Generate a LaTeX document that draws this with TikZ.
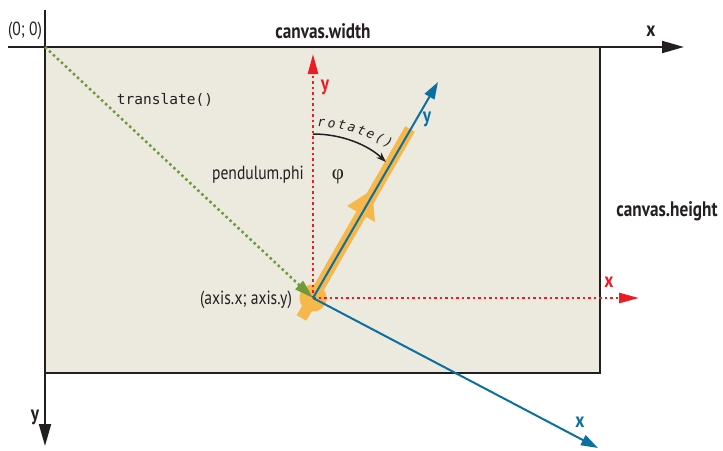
\documentclass[tikz,border=0pt]{standalone}
\usepackage{fontspec}
\setmainfont[FakeStretch=0.82]{PT Sans}
\newfontfamily\monofont{DejaVu Sans Mono}
\newfontfamily\monoslant{DejaVu Sans Mono Oblique}
\newfontfamily\greekserif{Liberation Serif}
\usetikzlibrary{arrows.meta,calc}
\definecolor{canvasbg}{HTML}{ECE9DE}
\definecolor{axred}{HTML}{EC1C24}
\definecolor{axblue}{HTML}{0B70A0}
\definecolor{penorange}{HTML}{F6B84B}
\definecolor{trgreen}{HTML}{6F9A3B}
\definecolor{inkblack}{HTML}{231F20}
\begin{document}
\begin{tikzpicture}[x=1pt,y=-1pt,
  lbl/.style={font=\fontsize{19}{19}\selectfont, text=inkblack, inner sep=0pt},
  boldlbl/.style={font=\fontsize{21}{21}\selectfont\bfseries, inner sep=0pt},
  monolbl/.style={font=\monofont\fontsize{14.5}{14.5}\selectfont, text=inkblack, inner sep=0pt},
  rotch/.style={font=\monoslant\fontsize{13}{13}\selectfont, text=inkblack, inner sep=0pt, sloped, anchor=base},
  mainaxis/.style={draw=inkblack, line width=2pt, -{Triangle[length=22pt,width=12pt]}},
  redaxis/.style={draw=axred, line width=2.5pt, dash pattern=on 2.5pt off 3pt, -{Triangle[length=20pt,width=10pt]}},
  blueaxis/.style={draw=axblue, line width=2pt, -{Triangle[length=17pt,width=11pt]}},
  greenpath/.style={draw=trgreen, line width=2.5pt, dash pattern=on 2.5pt off 3pt, -{Triangle[length=19pt,width=11pt]}}
]
\useasboundingbox (0,0) rectangle (723,450);
% canvas
\coordinate (cTL) at (45,47);
\coordinate (cBR) at (600,373);
\fill[canvasbg] (cTL) rectangle (cBR);
\draw[inkblack, line width=2pt] (cTL) rectangle (cBR);
% main axes
\coordinate (xs) at (8,47);
\coordinate (xe) at (684,47);
\coordinate (ys) at (45,10);
\coordinate (ye) at (45,446);
\draw[mainaxis] (xs) -- (xe);
\draw[mainaxis] (ys) -- (ye);
% pivot
\coordinate (O) at (313,298);
\coordinate (rodA) at (301.5,318);
\coordinate (rodB) at (410,129);
\coordinate (tipA) at (372,190);
\coordinate (barbL) at (347,206);
\coordinate (barbR) at (375,222);
\draw[penorange, line width=11pt] (rodA) -- (rodB);
\fill[penorange] (O) circle (13.5);
\fill[penorange] (tipA) -- (barbL) -- (barbR) -- cycle;
% red axes
\coordinate (ry) at (313,54);
\coordinate (rx) at (639,298);
\draw[redaxis] (O) -- (ry);
\draw[redaxis] (O) -- (rx);
% blue axes
\coordinate (by) at (438,82);
\coordinate (bx) at (598,448);
\draw[blueaxis] (O) -- (by);
\draw[blueaxis] (O) -- (bx);
% translate
\draw[greenpath] (cTL) -- (O);
% rotate arc
\coordinate (rotS) at (313,134);
\coordinate (rotE) at (386,162);
\draw[inkblack, line width=1.5pt, -{Stealth[length=10pt,width=7pt]}] (rotS) .. controls (342,134) and (368,145) .. (rotE);
\path (315,127) .. controls (345,126) and (372,137) .. (395,152)
  node[rotch, pos=0.07] (r1) {r}
  node[rotch, pos=0.185] (r2) {o}
  node[rotch, pos=0.30] (r3) {t}
  node[rotch, pos=0.415] (r4) {a}
  node[rotch, pos=0.53] (r5) {t}
  node[rotch, pos=0.645] (r6) {e}
  node[rotch, pos=0.76] (r7) {(}
  node[rotch, pos=0.875] (r8) {)};
% labels
\node[lbl] (orig) at (25,31) {(0; 0)};
\node[boldlbl, text=inkblack] (cw) at (323,31) {canvas.width};
\node[boldlbl, text=inkblack] (xl) at (651,31) {x};
\node[boldlbl, text=inkblack] (ch) at (667,211) {canvas.height};
\node[boldlbl, text=inkblack] (yl) at (35,417) {y};
\node[boldlbl, text=axred] (ryl) at (325,87) {y};
\node[boldlbl, text=axred] (rxl) at (609,282) {x};
\node[boldlbl, text=axblue] (byl) at (427,119) {y};
\node[boldlbl, text=axblue] (bxl) at (580,422) {x};
\node[monolbl] (tr) at (165,100) {translate()};
\node[lbl] (pphi) at (258,175) {pendulum.phi};
\node[lbl, font=\greekserif\fontsize{21}{21}\selectfont] (phi) at (338,177) {φ};
\node[lbl] (axl) at (246,300) {(axis.x; axis.y)};
\end{tikzpicture}
\end{document}
